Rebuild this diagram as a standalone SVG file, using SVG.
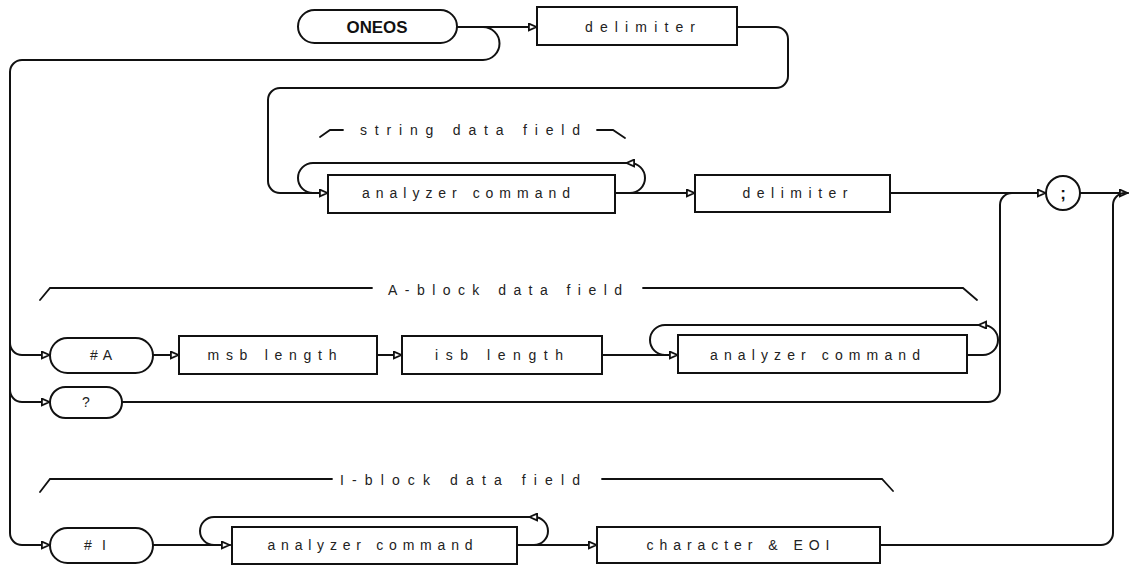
<svg xmlns="http://www.w3.org/2000/svg" width="1130" height="567" viewBox="0 0 1130 567">
<style>
.box{fill:#fff;stroke:#111;stroke-width:2}
.ln{fill:none;stroke:#111;stroke-width:2;stroke-linecap:round;stroke-linejoin:round}
.br{fill:none;stroke:#111;stroke-width:1.8;stroke-linecap:round}
.t{font-family:"Liberation Sans",Arial,sans-serif;font-size:14px;fill:#222;text-anchor:middle}
.b{font-family:"Liberation Sans",Arial,sans-serif;font-size:17px;font-weight:bold;fill:#111;text-anchor:middle}
.lab{font-family:"Liberation Sans",Arial,sans-serif;font-size:14px;fill:#222}
</style>
<defs>
<marker id="arr" viewBox="0 0 10 10" refX="10" refY="5" markerWidth="11" markerHeight="9" markerUnits="userSpaceOnUse" orient="auto">
<path d="M1,1.2 L9.5,5 L1,8.8 z" fill="#fff" stroke="#111" stroke-width="2"/>
</marker>
</defs>
<rect width="1130" height="567" fill="#fff"/>

<g id="connectors">
<path class="ln" d="M457 27 L537 27" marker-end="url(#arr)"/>
<path class="ln" d="M460 27 L483 27 A16.5 16.5 0 0 1 483 60 L22 60 A12 12 0 0 0 10 72 L10 533 A12 12 0 0 0 22 545 L50 545" marker-end="url(#arr)"/>
<path class="ln" d="M10 343 A12 12 0 0 0 22 355 L50 355" marker-end="url(#arr)"/>
<path class="ln" d="M10 390 A12 12 0 0 0 22 402 L50 402" marker-end="url(#arr)"/>
<path class="ln" d="M737 27 L776 27 A12 12 0 0 1 788 39 L788 76 A12 12 0 0 1 776 88 L280 88 A12 12 0 0 0 268 100 L268 181 A12 12 0 0 0 280 193 L328 193" marker-end="url(#arr)"/>
<path class="ln" d="M615 193 L695 193" marker-end="url(#arr)"/>
<path class="ln" d="M615 193 L630 193 A15 15 0 0 0 630 163 L626 163" marker-end="url(#arr)"/>
<path class="ln" d="M626 163 L313 163 A15 15 0 0 0 313 193"/>
<path class="ln" d="M890 193 L1046 193" marker-end="url(#arr)"/>
<path class="ln" d="M1080 193 L1128 193" marker-end="url(#arr)"/>
<path class="ln" d="M122 402 L988 402 A12 12 0 0 0 1000 390 L1000 205 A12 12 0 0 1 1012 193"/>
<path class="ln" d="M153 355 L179 355" marker-end="url(#arr)"/>
<path class="ln" d="M377 355 L402 355" marker-end="url(#arr)"/>
<path class="ln" d="M602 355 L678 355" marker-end="url(#arr)"/>
<path class="ln" d="M967 355 L983 355 A15 15 0 0 0 983 325 L978 325" marker-end="url(#arr)"/>
<path class="ln" d="M978 325 L665 325 A15 15 0 0 0 665 355"/>
<path class="ln" d="M153 545 L230 545" marker-end="url(#arr)"/>
<path class="ln" d="M517 545 L597 545" marker-end="url(#arr)"/>
<path class="ln" d="M517 545 L534 545 A14 14 0 0 0 534 517 L529 517" marker-end="url(#arr)"/>
<path class="ln" d="M529 517 L214 517 A14 14 0 0 0 214 545"/>
<path class="ln" d="M880 545 L1101 545 A12 12 0 0 0 1113 533 L1113 205 A12 12 0 0 1 1125 193"/>
</g>

<g id="brackets">
<path class="br" d="M320 137 L330 130 L343 130"/>
<path class="br" d="M597 130 L613 130 L625 138"/>
<text class="lab" x="360" y="135" textLength="220" lengthAdjust="spacing">string data field</text>
<path class="br" d="M40 300 L50 288 L372 288"/>
<path class="br" d="M643 288 L963 288 L977 300"/>
<text class="lab" x="388" y="295" textLength="234" lengthAdjust="spacing">A-block data field</text>
<path class="br" d="M40 492 L50 479 L332 479"/>
<path class="br" d="M602 479 L882 479 L893 491"/>
<text class="lab" x="340" y="485" textLength="240" lengthAdjust="spacing">I-block data field</text>
</g>

<g id="n-oneos"><rect class="box" x="298" y="10" width="159" height="33" rx="16.5"/><text class="b" x="377" y="33" textLength="61" lengthAdjust="spacingAndGlyphs">ONEOS</text></g>
<g id="n-delim1"><rect class="box" x="537" y="7" width="200" height="38"/><text class="t" x="640" y="32" textLength="110" lengthAdjust="spacing">delimiter</text></g>
<g id="n-cmd1"><rect class="box" x="328" y="175" width="287" height="38"/><text class="t" x="466" y="198" textLength="208" lengthAdjust="spacing">analyzer command</text></g>
<g id="n-delim2"><rect class="box" x="695" y="175" width="195" height="37"/><text class="t" x="795" y="198" textLength="105" lengthAdjust="spacing">delimiter</text></g>
<g id="n-semi"><circle class="box" cx="1063" cy="193" r="17"/><text class="b" x="1063" y="199" font-size="17">;</text></g>
<g id="n-hashA"><rect class="box" x="50" y="338" width="103" height="35" rx="17.5"/><text class="t" x="101" y="360" textLength="22" lengthAdjust="spacing">#A</text></g>
<g id="n-msb"><rect class="box" x="179" y="336" width="198" height="38"/><text class="t" x="272" y="360" textLength="129" lengthAdjust="spacing">msb length</text></g>
<g id="n-isb"><rect class="box" x="402" y="336" width="200" height="38"/><text class="t" x="499" y="360" textLength="128" lengthAdjust="spacing">isb length</text></g>
<g id="n-cmd2"><rect class="box" x="678" y="335" width="289" height="38"/><text class="t" x="815" y="360" textLength="210" lengthAdjust="spacing">analyzer command</text></g>
<g id="n-q"><rect class="box" x="50" y="387" width="72" height="31" rx="15.5"/><text class="t" x="86" y="407">?</text></g>
<g id="n-hash1"><rect class="box" x="50" y="528" width="103" height="35" rx="17.5"/><text class="t" x="95" y="550" textLength="22" lengthAdjust="spacing">#I</text></g>
<g id="n-cmd3"><rect class="box" x="232" y="527" width="285" height="37"/><text class="t" x="370" y="550" textLength="205" lengthAdjust="spacing">analyzer command</text></g>
<g id="n-char"><rect class="box" x="597" y="527" width="283" height="36"/><text class="t" x="738" y="550" textLength="183" lengthAdjust="spacing">character &amp; EOI</text></g>
</svg>
